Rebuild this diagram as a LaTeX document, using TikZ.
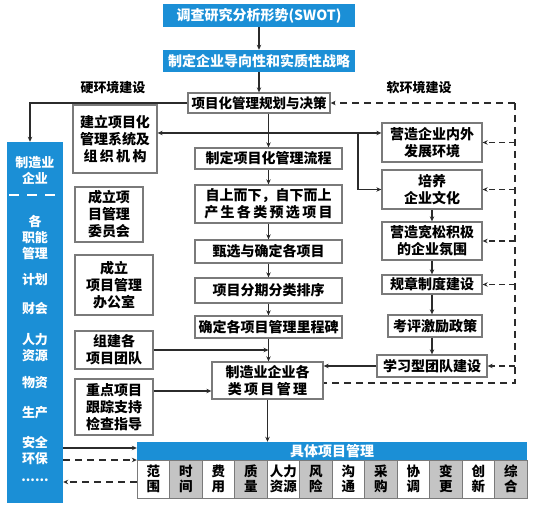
\documentclass[tikz,border=0pt]{standalone}
\usepackage{fontspec}
\newfontfamily\cjk{Noto Sans CJK SC}
\usepackage{tikz}
\usetikzlibrary{arrows.meta, positioning, calc}
\definecolor{planblue}{HTML}{1B8FD6}
\definecolor{planline}{HTML}{2B2B2B}
\definecolor{planedge}{HTML}{7A7A7A}
\definecolor{cellgray}{HTML}{C4C4C4}

\begin{document}
\begin{tikzpicture}[
    x=1pt, y=-1pt,
    box/.style={rectangle, draw=planedge, line width=1.3pt, fill=white, align=center, inner sep=1pt, font=\cjk\bfseries\fontsize{14}{17}\selectfont, text=black},
    bluebox/.style={rectangle, fill=planblue, align=center, inner sep=1pt, font=\cjk\bfseries\fontsize{14}{16}\selectfont, text=white},
    bluetext/.style={align=center, inner sep=0pt, font=\cjk\bfseries\fontsize{13}{16}\selectfont, text=white},
    label/.style={font=\cjk\bfseries\fontsize{13}{15}\selectfont, text=black},
    cell/.style={rectangle, draw=planedge, line width=0.8pt, minimum width=32.5pt, minimum height=38pt, inner sep=0pt, align=center, font=\cjk\bfseries\fontsize{13.5}{15}\selectfont},
    arrow/.style={-{Stealth[length=5pt, width=4.5pt]}, line width=1.2pt, color=planline},
    dasharrow/.style={arrow, dashed, dash pattern=on 7pt off 5pt}
]
\useasboundingbox (0,0) rectangle (539,510);

\node[bluebox, minimum width=192pt, minimum height=23pt] (swot) at (259,15.5) {调查研究分析形势(SWOT)};
\node[bluebox, minimum width=192pt, minimum height=22pt] (strat) at (259,61) {制定企业导向性和实质性战略};
\node[box, minimum width=142pt, minimum height=20pt, font=\cjk\bfseries\fontsize{13.5}{16}\selectfont] (plan) at (259,103) {项目化管理规划与决策};
\node[label] (hard) at (113,88) {硬环境建设};
\node[label] (soft) at (419,88) {软环境建设};

\node[rectangle, fill=planblue, minimum width=56pt, minimum height=361pt, inner sep=0pt] (mfg) at (35,322.5) {};
\node[bluetext] (mfg1) at (35,170) {制造业\\企业};
\node[bluetext] (mfg2) at (35,237) {各\\职能\\管理};
\node[bluetext] (mfg3) at (35,280) {计划};
\node[bluetext] (mfg4) at (35,309) {财会};
\node[bluetext] (mfg5) at (35,348) {人力\\资源};
\node[bluetext] (mfg6) at (35,383) {物资};
\node[bluetext] (mfg7) at (35,413) {生产};
\node[bluetext] (mfg8) at (35,451) {安全\\环保};
\node[bluetext] (mfg9) at (35,480) {......};
\draw[white, line width=1.3pt, dash pattern=on 10pt off 8pt] (9,195) -- (62,195);

\node[box, minimum width=84pt, minimum height=68pt] (sys) at (115,139) {建立项目化\\管理系统及\\组\,织\,机\,构};
\node[box, minimum width=68pt, minimum height=55pt] (cmte) at (109,214.5) {成立项\\目管理\\委员会};
\node[box, minimum width=78pt, minimum height=60pt] (office) at (114,285) {成立\\项目管理\\办公室};
\node[box, minimum width=78pt, minimum height=38pt] (team) at (114,350) {组建各\\项目团队};
\node[box, minimum width=78pt, minimum height=56pt] (track) at (114,407) {重点项目\\跟踪支持\\检查指导};

\node[box, minimum width=147pt, minimum height=21pt] (flow) at (268.5,158.5) {制定项目化管理流程};
\node[box, minimum width=147pt, minimum height=38pt] (pre) at (268.5,204) {自上而下，自下而上\\产\,生\,各\,类\,预\,选\,项\,目};
\node[box, minimum width=147pt, minimum height=23pt] (choose) at (268.5,251.5) {甄选与确定各项目};
\node[box, minimum width=147pt, minimum height=25pt] (sort) at (268.5,290.5) {项目分期分类排序};
\node[box, minimum width=147pt, minimum height=22pt] (mile) at (268.5,327) {确定各项目管理里程碑};
\node[box, minimum width=111pt, minimum height=37pt] (proj) at (267.5,380.5) {制造业企业各\\类\,项\,目\,管\,理};

\node[box, minimum width=100pt, minimum height=39pt] (env) at (432,142.5) {营造企业内外\\发展环境};
\node[box, minimum width=100pt, minimum height=39pt] (culture) at (432,189.5) {培养\\企业文化};
\node[box, minimum width=100pt, minimum height=38pt] (atmos) at (432,241) {营造宽松积极\\的企业氛围};
\node[box, minimum width=100pt, minimum height=19pt] (rules) at (432,284.5) {规章制度建设};
\node[box, minimum width=94pt, minimum height=22pt] (eval) at (435,326) {考评激励政策};
\node[box, minimum width=110pt, minimum height=22pt] (learn) at (432,366) {学习型团队建设};

\node[rectangle, fill=planblue, minimum width=390pt, minimum height=18pt, inner sep=0pt] (spec) at (332,451) {};
\node[bluetext, font=\cjk\bfseries\fontsize{14}{15}\selectfont] (spectext) at (332,451) {具体项目管理};
\foreach \t [count=\i] in {{范\\围},{时\\间},{费\\用},{质\\量},{人力\\资源},{风\\险},{沟\\通},{采\\购},{协\\调},{变\\更},{创\\新},{综\\合}} {
  \ifodd\i \def\cf{white}\else\def\cf{cellgray}\fi
  \node[cell, fill=\cf] (c\i) at ({137+32.5*(\i-0.5)},479) {\t};
}

\draw[arrow] (swot) -- (strat);
\draw[arrow] (strat) -- (plan);
\draw[arrow] (plan.west) -| ([xshift=-5pt]mfg.north);
\draw[arrow] (plan.south -| flow.north) -- (flow.north);
\coordinate (hub) at (268,133);
\coordinate (fork) at (358,133);
\draw[arrow] (hub) -- (hub -| sys.east);
\draw[arrow] (hub) -- (hub -| env.west);
\draw[arrow] (fork) |- (culture.west);
\draw[arrow] (flow) -- (pre);
\draw[arrow] (pre) -- (choose);
\draw[arrow] (choose) -- (sort);
\draw[arrow] (sort) -- (mile);
\draw[arrow] (mile.south) -- (mile.south |- proj.north);
\draw[arrow] (team.east) -- (team.east -| mile.south);
\draw[arrow] ([yshift=16pt]track.east) -- ([yshift=16pt]track.east -| proj.west);
\draw[arrow] (proj.south) -- (proj.south |- spec.north);
\draw[arrow] (culture) -- (atmos);
\draw[arrow] (atmos) -- (rules);
\draw[arrow] (rules.south) -- (rules.south |- eval.north);
\draw[arrow] (eval.south -| rules.south) -- (rules.south |- learn.north);
\draw[arrow] (learn.west) -- (learn.west -| proj.east);

\coordinate (dtop) at (515,103);
\coordinate (dbot) at (515,383);
\draw[dasharrow] (dtop) -- (plan.east);
\draw[line width=1.2pt, color=planline, dash pattern=on 7pt off 5pt] (dtop) -- (dbot) -- (dbot -| proj.east);
\foreach \n in {env,culture,atmos,rules,learn}
  \draw[dasharrow, dash pattern=on 6pt off 4pt] (\n.east -| dtop) -- (\n.east);

\draw[arrow] ([yshift=3pt]spec.west -| mfg.east) -- ([yshift=3pt]spec.west);
\draw[dasharrow] ([yshift=-9pt]spec.west -| mfg.east) -- ([yshift=-9pt]spec.west);
\draw[dasharrow] ([yshift=-3pt]c1.west) -- ([yshift=-3pt]c1.west -| mfg.east);
\end{tikzpicture}
\end{document}
